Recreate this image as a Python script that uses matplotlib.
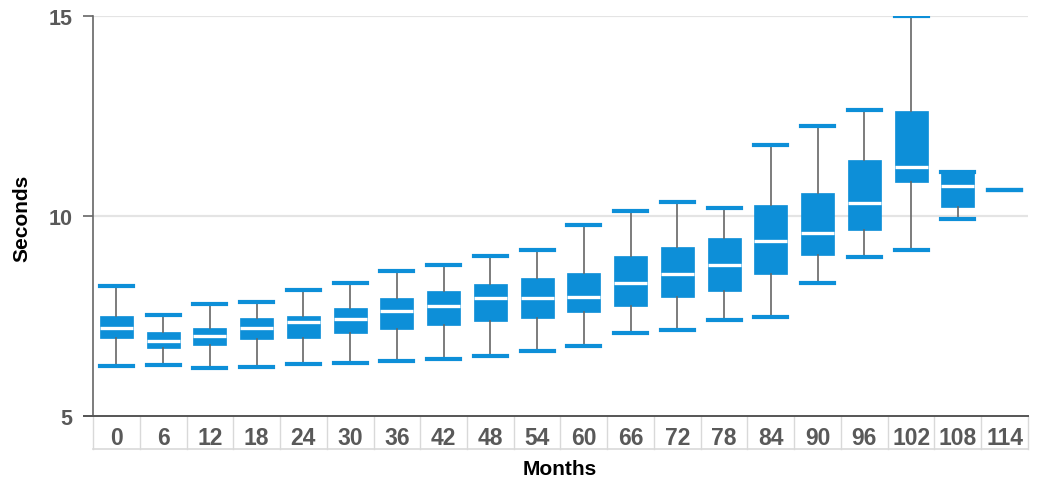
import matplotlib
matplotlib.use("Agg")
import matplotlib.pyplot as plt
import matplotlib.transforms as mtransforms

# months since start, and box statistics (seconds)
months = [0, 6, 12, 18, 24, 30, 36, 42, 48, 54, 60, 66, 72, 78, 84, 90, 96, 102, 108, 114]
whisker_lo = [6.24, 6.28, 6.20, 6.22, 6.29, 6.32, 6.38, 6.43, 6.51, 6.62,
              6.74, 7.07, 7.16, 7.41, 7.47, 8.33, 8.98, 9.16, 9.93, 10.66]
q1 = [6.96, 6.71, 6.77, 6.93, 6.96, 7.07, 7.18, 7.28, 7.38, 7.45,
      7.59, 7.74, 7.98, 8.12, 8.54, 9.03, 9.66, 10.86, 10.23, 10.66]
median = [7.21, 6.87, 6.99, 7.21, 7.34, 7.43, 7.63, 7.74, 7.96, 7.95,
          7.97, 8.33, 8.55, 8.78, 9.37, 9.58, 10.33, 11.23, 10.74, 10.66]
q3 = [7.51, 7.09, 7.20, 7.44, 7.51, 7.71, 7.94, 8.13, 8.30, 8.45,
      8.58, 8.99, 9.22, 9.44, 10.28, 10.57, 11.41, 12.63, 11.09, 10.66]
whisker_hi = [8.26, 7.53, 7.79, 7.85, 8.14, 8.33, 8.63, 8.78, 9.01, 9.16,
              9.77, 10.13, 10.36, 10.20, 11.78, 12.25, 12.66, 14.99, 11.09, 10.66]

BLUE = '#0d8fd8'
GRAY = '#666666'
FONT = 'Liberation Sans'

stats = []
for i, m in enumerate(months):
    stats.append({'label': str(m), 'whislo': whisker_lo[i], 'q1': q1[i], 'med': median[i],
                  'q3': q3[i], 'whishi': whisker_hi[i], 'fliers': []})

fig = plt.figure(figsize=(10.37, 4.85), dpi=100)
ax = fig.add_axes([0.0897, 0.1402, 0.9016, 0.8248])

ax.bxp(stats, positions=range(len(months)), widths=0.71, patch_artist=True,
       showfliers=False,
       boxprops=dict(facecolor=BLUE, edgecolor=BLUE, linewidth=0.5),
       medianprops=dict(color='white', linewidth=2.4, zorder=2.5),
       whiskerprops=dict(color=GRAY, linewidth=1.2),
       capprops=dict(color=BLUE, linewidth=3.0, zorder=3),
       capwidths=0.71)

ax.set_xlim(-0.5, len(months) - 0.5)
ax.set_ylim(5, 15)
ax.set_yticks([5, 10, 15])
ax.set_yticklabels(['5', '10', '15'], fontfamily=FONT, fontweight='bold',
                   fontsize=15.5, color='#595959')
ax.set_xticks(range(len(months)))
ax.set_xticklabels([str(m) for m in months], fontfamily=FONT, fontweight='bold',
                   fontsize=16.5, color='#595959')
ax.tick_params(axis='x', length=0, pad=7)
ax.tick_params(axis='y', length=7, width=1.2, color=GRAY, pad=8)

for y in [10, 15]:
    ax.axhline(y, color='#e4e4e4', linewidth=1.6, zorder=0)

for s in ['top', 'right']:
    ax.spines[s].set_visible(False)
ax.spines['left'].set_color(GRAY)
ax.spines['left'].set_linewidth(1.2)
ax.spines['bottom'].set_color('#555555')
ax.spines['bottom'].set_linewidth(1.4)
ax.spines['bottom'].set_bounds(-0.7, len(months) - 0.5)

# table-like cells under the x axis
trans = mtransforms.blended_transform_factory(ax.transData, ax.transAxes)
cell_bottom = -0.0825
for i in range(len(months) + 1):
    ax.plot([i - 0.5, i - 0.5], [0, cell_bottom], color='#d9d9d9', linewidth=1.0,
            transform=trans, clip_on=False)
ax.plot([-0.5, len(months) - 0.5], [cell_bottom, cell_bottom], color='#d9d9d9',
        linewidth=1.2, transform=trans, clip_on=False)

fig.text(22 / 1037, 1 - 218 / 485, 'Seconds', rotation=90, ha='center', va='center',
         fontfamily=FONT, fontweight='bold', fontsize=15, color='black')
fig.text(560 / 1037, 1 - 470 / 485, 'Months', ha='center', va='center',
         fontfamily=FONT, fontweight='bold', fontsize=15, color='black')

fig.savefig('out.png', dpi=100, facecolor='white')
